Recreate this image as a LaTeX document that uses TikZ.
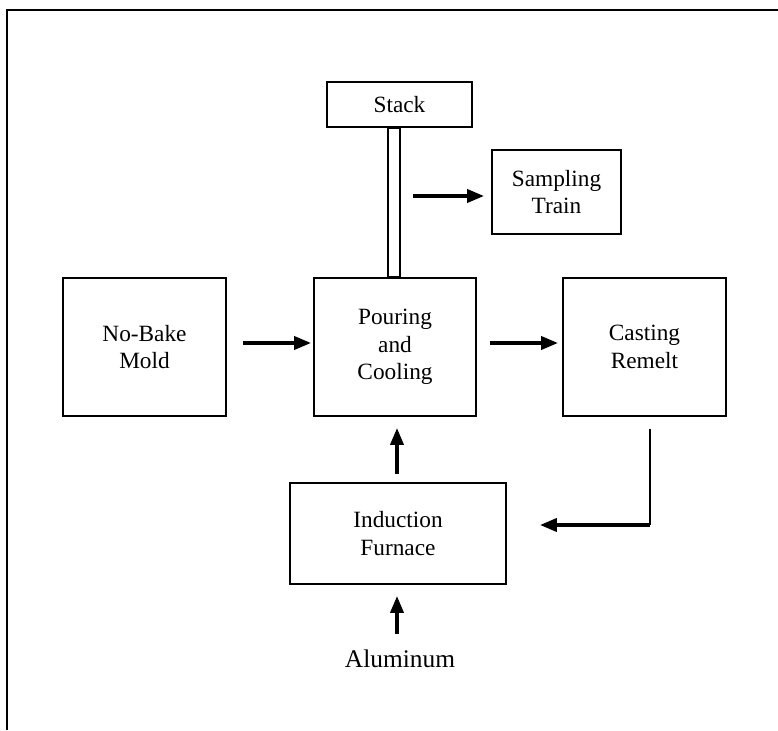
\documentclass[tikz,border=0pt]{standalone}
\usepackage{fontspec}
\setmainfont{Liberation Serif}
\usetikzlibrary{arrows.meta}

\begin{document}
\begin{tikzpicture}[x=1pt,y=-1pt,
    box/.style={draw,line width=1.8pt,inner sep=0pt,align=center,
        font=\fontsize{23.3}{27.7}\selectfont},
    flow/.style={line width=3.6pt,-{Triangle[length=17pt,width=13pt]}}]
    \useasboundingbox (0,0) rectangle (778,730);
    \path[draw,line width=2pt] (7,730) -- (7,10) -- (778,10);

    \node[box,minimum width=145,minimum height=45] (stack) at (399.5,104.5) {Stack};
    \node[box,minimum width=129,minimum height=84] (sampling) at (556.5,192) {Sampling\\Train};
    \node[box,minimum width=163,minimum height=138] (mold) at (144.5,347) {No-Bake\\Mold};
    \node[box,minimum width=162,minimum height=138] (pour) at (395,347) {Pouring\\and\\Cooling};
    \node[box,minimum width=163,minimum height=138] (remelt) at (644.5,347) {Casting\\Remelt};
    \node[box,minimum width=216,minimum height=101] (furnace) at (398,533.5) {Induction\\Furnace};
    \node[inner sep=0pt,font=\fontsize{25.4}{30}\selectfont] (alu) at (400,659.3) {Aluminum};

    \coordinate (tap) at (413,196);
    \coordinate (drop) at (650,429);
    \coordinate (bend) at (650,525);

    % stack pipe
    \path[draw,line width=1.6pt] ([xshift=-7pt]pour.north) rectangle ([xshift=5pt]pour.north |- stack.south);

    \draw[flow,shorten >=7pt] (tap) -- (tap -| sampling.west);
    \draw[flow,shorten <=16pt,shorten >=2pt] ([yshift=4pt]mold.east) -- ([yshift=4pt]pour.west);
    \draw[flow,shorten <=13pt,shorten >=4pt] ([yshift=4pt]pour.east) -- ([yshift=4pt]remelt.west);
    \draw[line width=2pt] (drop) -- (bend);
    \draw[flow,shorten >=33pt] (bend) -- (bend -| furnace.east);
    \draw[flow,shorten <=8pt,shorten >=11pt] ([xshift=-1pt]furnace.north) -- ([xshift=-1pt]furnace.north |- pour.south);
    \draw[flow,shorten <=16pt,shorten >=11pt] ([xshift=-1pt]furnace.south |- alu.north) -- ([xshift=-1pt]furnace.south);

\end{tikzpicture}
\end{document}
